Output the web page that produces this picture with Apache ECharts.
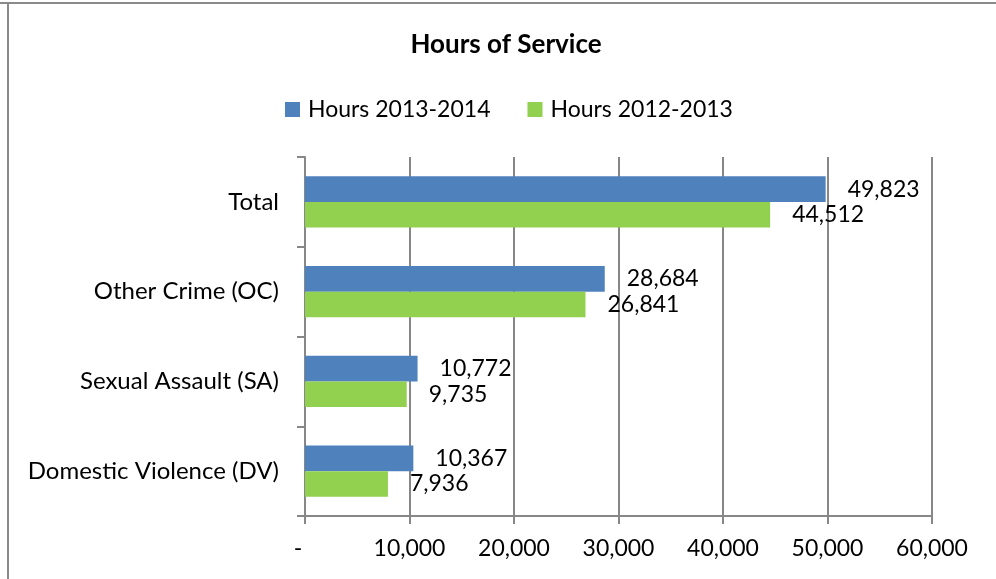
<!DOCTYPE html>
<html>
<head>
<meta charset="utf-8">
<title>Hours of Service</title>
<script src="https://cdn.jsdelivr.net/npm/echarts@6/dist/echarts.min.js"></script>
<style>
	html, body { margin: 0; padding: 0; background: #fff; }
	#main { width: 996px; height: 579px; }
</style>
</head>
<body>
<div id="main"></div>
<script>
var chartTitle = "Hours of Service";

// categories, bottom to top
var categories = ["Domestic Violence (DV)", "Sexual Assault (SA)", "Other Crime (OC)", "Total"];
var hours2013_2014 = [10367, 10772, 28684, 49823];
var hours2012_2013 = [7936, 9735, 26841, 44512];
var seriesNames = ["Hours 2013-2014", "Hours 2012-2013"];
var axisTicks = [0, 10000, 20000, 30000, 40000, 50000, 60000];

var fontName = "Lato";
var gridColor = "#878787";

function fmt(v) {
	return Number(v).toLocaleString("en-US");
}

var myChart = echarts.init(document.getElementById("main"));

var option = {
	backgroundColor: "#fff",
	textStyle: { fontFamily: fontName, color: "#000" },
	title: {
		text: chartTitle,
		left: 501,
		textAlign: "center",
		top: 27,
		textStyle: { fontFamily: fontName, fontSize: 26, fontWeight: "bold", color: "#000" }
	},
	legend: {
		data: seriesNames,
		left: 280,
		top: 93,
		icon: "rect",
		itemWidth: 15,
		itemHeight: 15,
		itemGap: 37,
		textStyle: { fontFamily: fontName, fontSize: 23, color: "#000", padding: [0, 0, 0, 3] }
	},
	grid: {
		left: 305,
		right: 64,
		top: 157,
		bottom: 63,
		containLabel: false
	},
	xAxis: {
		type: "value",
		min: axisTicks[0],
		max: axisTicks[axisTicks.length - 1],
		interval: 10000,
		axisLine: { show: true, lineStyle: { color: gridColor, width: 2 } },
		axisTick: { show: true, inside: false, length: 8, lineStyle: { color: gridColor, width: 2 } },
		splitLine: { show: true, lineStyle: { color: gridColor, width: 2 } },
		axisLabel: {
			margin: 21,
			fontFamily: fontName,
			fontSize: 23,
			color: "#000",
			formatter: function (v) {
				return v === 0 ? "{z|-}" : fmt(v);
			},
			rich: {
				z: { fontFamily: fontName, fontSize: 23, color: "#000", padding: [0, 14, 0, 0] }
			}
		}
	},
	yAxis: {
		type: "category",
		data: categories,
		axisLine: { show: true, lineStyle: { color: gridColor, width: 2 } },
		axisTick: { show: true, inside: false, length: 8, lineStyle: { color: gridColor, width: 2 } },
		splitLine: { show: false },
		axisLabel: { margin: 26, fontFamily: fontName, fontSize: 24, color: "#000" }
	},
	series: [
		{
			name: seriesNames[0],
			type: "bar",
			data: hours2013_2014,
			barGap: "0%",
			barCategoryGap: "43%",
			itemStyle: { color: "#4f81bd" },
			label: {
				show: true,
				position: "right",
				distance: 22,
				fontFamily: fontName,
				fontSize: 23,
				color: "#000",
				formatter: function (p) { return fmt(p.value); }
			}
		},
		{
			name: seriesNames[1],
			type: "bar",
			data: hours2012_2013,
			barGap: "0%",
			barCategoryGap: "43%",
			itemStyle: { color: "#92d050" },
			label: {
				show: true,
				position: "right",
				distance: 22,
				fontFamily: fontName,
				fontSize: 23,
				color: "#000",
				formatter: function (p) { return fmt(p.value); }
			}
		}
	],
	// outer frame lines of the original picture
	graphic: [
		{ type: "line", shape: { x1: 0, y1: 3, x2: 996, y2: 3 }, style: { stroke: "#8a8a8a", lineWidth: 2 } },
		{ type: "line", shape: { x1: 8, y1: 3, x2: 8, y2: 579 }, style: { stroke: "#8a8a8a", lineWidth: 2 } }
	]
};

myChart.setOption(option);
</script>
</body>
</html>
